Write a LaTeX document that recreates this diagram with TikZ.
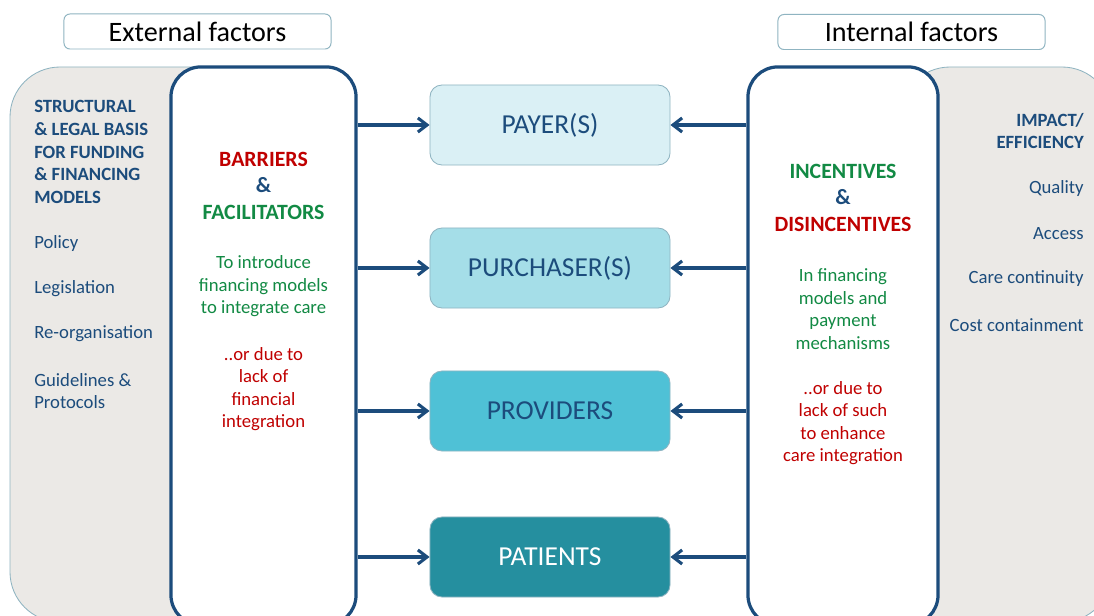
\documentclass[tikz,border=0pt]{standalone}
\usepackage{fontspec}
\setmainfont{Carlito}
\usetikzlibrary{arrows.meta}

\definecolor{navy}{RGB}{28,76,124}
\definecolor{darkred}{RGB}{192,0,0}
\definecolor{leafgreen}{RGB}{18,138,68}
\definecolor{panelgray}{RGB}{235,233,230}
\definecolor{edgeblue}{RGB}{143,180,193}
\definecolor{payerc}{RGB}{218,240,245}
\definecolor{purchc}{RGB}{165,222,232}
\definecolor{provc}{RGB}{79,193,214}
\definecolor{patc}{RGB}{37,143,159}

\begin{document}
\begin{tikzpicture}[x=0.025cm,y=-0.025cm,
    panel/.style={draw=edgeblue,line width=0.6pt,fill=panelgray,rounded corners=1.25cm},
    whitebox/.style={draw=navy,line width=2.3pt,fill=white,rounded corners=0.75cm,
      minimum height=13.95cm},
    header/.style={draw=edgeblue,line width=0.7pt,fill=white,rounded corners=0.15cm,
      minimum width=6.675cm,minimum height=0.875cm,font=\fontsize{20}{24}\selectfont},
    factor/.style={draw=edgeblue,line width=0.6pt,rounded corners=0.3cm,
      minimum width=6cm,minimum height=2cm,text=navy,font=\fontsize{19.5}{24}\selectfont},
    txt/.style={inner sep=0pt,text=navy,font=\fontsize{13.3}{16}\selectfont},
    lhead/.style={txt,font=\fontsize{13.3}{16.1}\selectfont\bfseries},
    chead/.style={inner sep=0pt,align=center,font=\fontsize{15.5}{18.8}\selectfont\bfseries},
    body/.style={inner sep=0pt,align=center,font=\fontsize{13.3}{16}\selectfont},
    arr/.style={navy,line width=2.2pt,-{Straight Barb[length=6.5pt,width=10pt]}}]

  \clip (0,0) rectangle (1094,616);
  \fill[white] (0,0) rectangle (1094,616);

  % Hintergrund
  \draw[panel] (10,67) rectangle (320,622);
  \draw[panel] (900,67) rectangle (1112,622);

  \node[header] (ext) at (197.5,31.5) {External factors};
  \node[header] (int) at (911.5,32) {Internal factors};

  \node[whitebox,minimum width=4.625cm] (barr) at (263.5,346) {};
  \node[whitebox,minimum width=4.75cm] (incent) at (843,346) {};

  % Akteure
  \node[factor,fill=payerc] (payer) at (550,125) {PAYER(S)};
  \node[factor,fill=purchc] (purch) at (550,268) {PURCHASER(S)};
  \node[factor,fill=provc] (prov) at (550,411) {PROVIDERS};
  \node[factor,fill=patc,text=white] (pat) at (550,557) {PATIENTS};

  % Pfeile
  \foreach \n in {payer,purch,prov,pat} {
    \draw[arr] (barr.east |- \n.west) -- (\n.west);
    \draw[arr] (incent.west |- \n.east) -- (\n.east);
  }

  % Beschriftung links
  \node[lhead,anchor=west,align=left] (struct) at (34,152)
    {STRUCTURAL\\\& LEGAL BASIS\\FOR FUNDING\\\& FINANCING\\MODELS};
  \node[txt,anchor=west] (policy) at (34,244) {Policy};
  \node[txt,anchor=west] (legis) at (34,289) {Legislation};
  \node[txt,anchor=west] (reorg) at (34,334) {Re-organisation};
  \node[txt,anchor=west,align=left] (guide) at (34,391) {Guidelines \&\\Protocols};

  \node[chead] (barrhead) at (263.5,185.5)
    {\textcolor{darkred}{BARRIERS}\\\textcolor{navy}{\&}\\\textcolor{leafgreen}{FACILITATORS}};
  \node[body,text=leafgreen] (barrgreen) at (263.5,286.5)
    {To introduce\\financing models\\to integrate care};
  \node[body,text=darkred] (barrred) at (263.5,389)
    {..or due to\\lack of\\financial\\integration};

  % Beschriftung rechts
  \node[chead] (incenthead) at (843,197.5)
    {\textcolor{leafgreen}{INCENTIVES}\\\textcolor{navy}{\&}\\\textcolor{darkred}{DISINCENTIVES}};
  \node[body,text=leafgreen] (incentgreen) at (843,309)
    {In financing\\models and\\payment\\mechanisms};
  \node[body,text=darkred] (incentred) at (843,423)
    {..or due to\\lack of such\\to enhance\\care integration};

  \node[lhead,anchor=east,align=right] (impact) at (1084,131) {IMPACT/\\EFFICIENCY};
  \node[txt,anchor=east] (quality) at (1084,189) {Quality};
  \node[txt,anchor=east] (access) at (1084,234) {Access};
  \node[txt,anchor=east] (contin) at (1084,279) {Care continuity};
  \node[txt,anchor=east] (cost) at (1084,325) {Cost containment};
\end{tikzpicture}
\end{document}
